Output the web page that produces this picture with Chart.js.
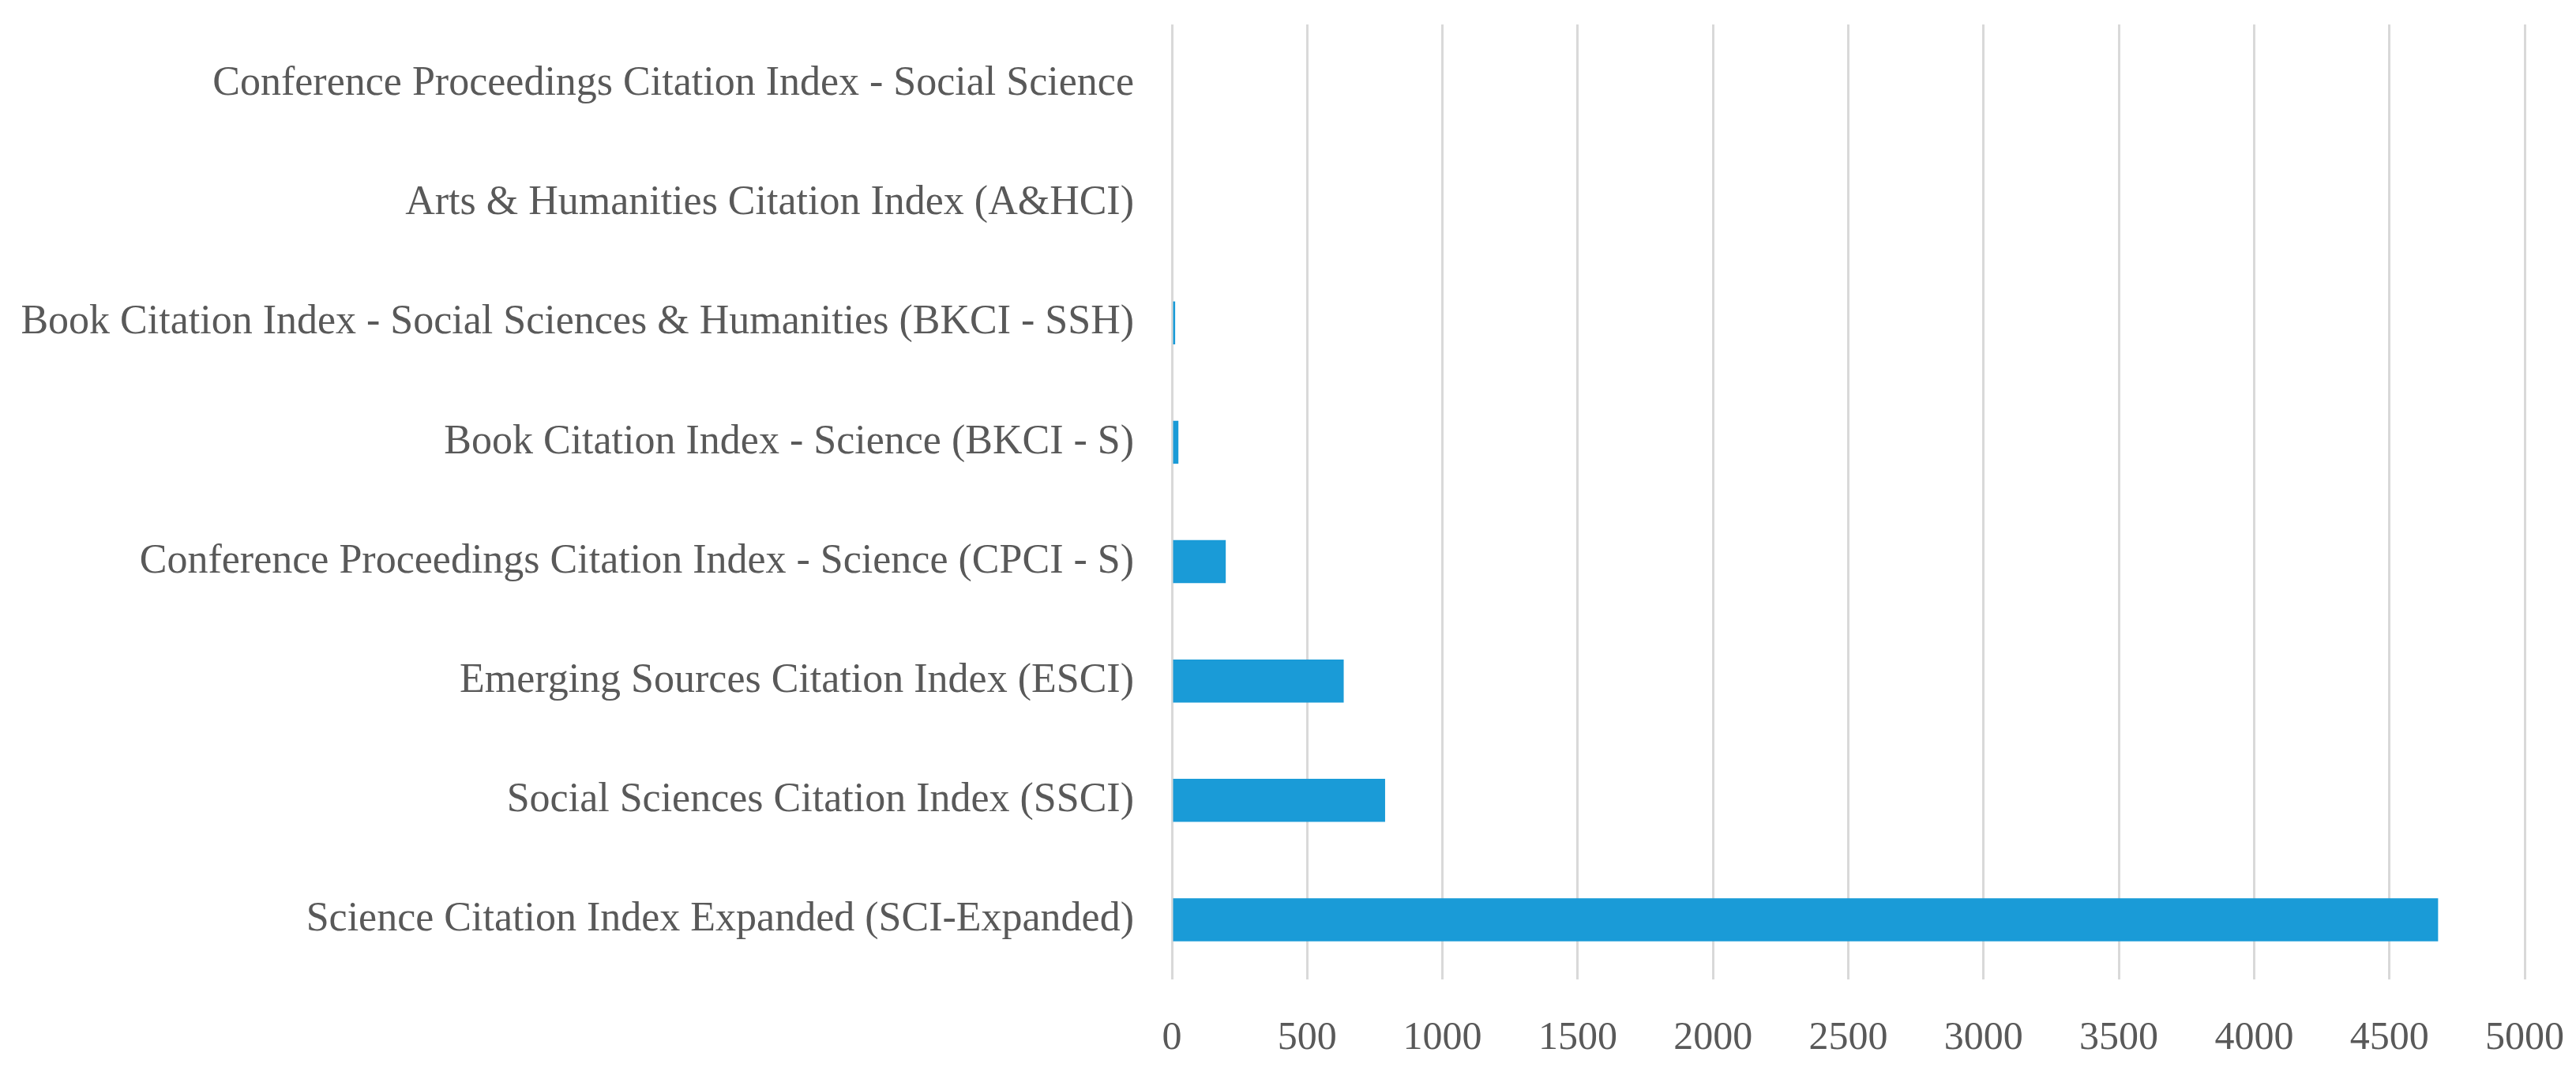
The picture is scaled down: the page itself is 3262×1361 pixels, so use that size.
<!DOCTYPE html>
<html>
<head>
<meta charset="utf-8">
<script src="https://cdn.jsdelivr.net/npm/chart.js@4/dist/chart.umd.min.js"></script>
<style>
    html, body { margin: 0; padding: 0; background: #ffffff; }
    #wrap { position: relative; width: 3262px; height: 1361px; }
</style>
</head>
<body>
<div id="wrap"><canvas id="indexChart"></canvas></div>
<script>
// Categories, top to bottom as in the picture
const categories = [
    'Conference Proceedings Citation Index - Social Science',
    'Arts & Humanities Citation Index (A&HCI)',
    'Book Citation Index - Social Sciences & Humanities (BKCI - SSH)',
    'Book Citation Index - Science (BKCI - S)',
    'Conference Proceedings Citation Index - Science (CPCI - S)',
    'Emerging Sources Citation Index (ESCI)',
    'Social Sciences Citation Index (SSCI)',
    'Science Citation Index Expanded (SCI-Expanded)'
];
const records = [0, 0, 12, 24, 199, 635, 788, 4680];
const xTicks = [0, 500, 1000, 1500, 2000, 2500, 3000, 3500, 4000, 4500, 5000];

const textColor = '#595959';
const serif = "'Liberation Serif', 'DejaVu Serif', serif";

const ctx = document.getElementById('indexChart');
new Chart(ctx, {
    type: 'bar',
    data: {
        labels: categories,
        datasets: [{
            data: records,
            backgroundColor: '#1a9bd7',
            borderWidth: 0,
            barPercentage: 0.36,
            categoryPercentage: 1
        }]
    },
    options: {
        indexAxis: 'y',
        responsive: true,
        maintainAspectRatio: false,
        animation: false,
        devicePixelRatio: 1,
        layout: {
            padding: { top: 31, right: 65, left: 0, bottom: 0 }
        },
        plugins: {
            legend: { display: false },
            tooltip: { enabled: false }
        },
        scales: {
            x: {
                min: 0,
                max: 5000,
                afterBuildTicks: (axis) => {
                    axis.ticks = xTicks.map(v => ({ value: v }));
                },
                afterFit: (axis) => {
                    axis.height = 121;
                    axis.paddingLeft = 0;
                    axis.paddingRight = 0;
                },
                border: { display: false },
                grid: {
                    color: '#d9d9d9',
                    lineWidth: 3,
                    drawTicks: false
                },
                ticks: {
                    color: textColor,
                    padding: 45,
                    font: { family: serif, size: 50 },
                    callback: (value) => String(value)
                }
            },
            y: {
                afterFit: (axis) => {
                    axis.width = 1484;
                    axis.paddingTop = 0;
                    axis.paddingBottom = 0;
                },
                border: { display: false },
                grid: { display: false, drawTicks: false },
                ticks: {
                    color: textColor,
                    padding: 48,
                    font: { family: serif, size: 52 }
                }
            }
        }
    }
});
</script>
</body>
</html>
